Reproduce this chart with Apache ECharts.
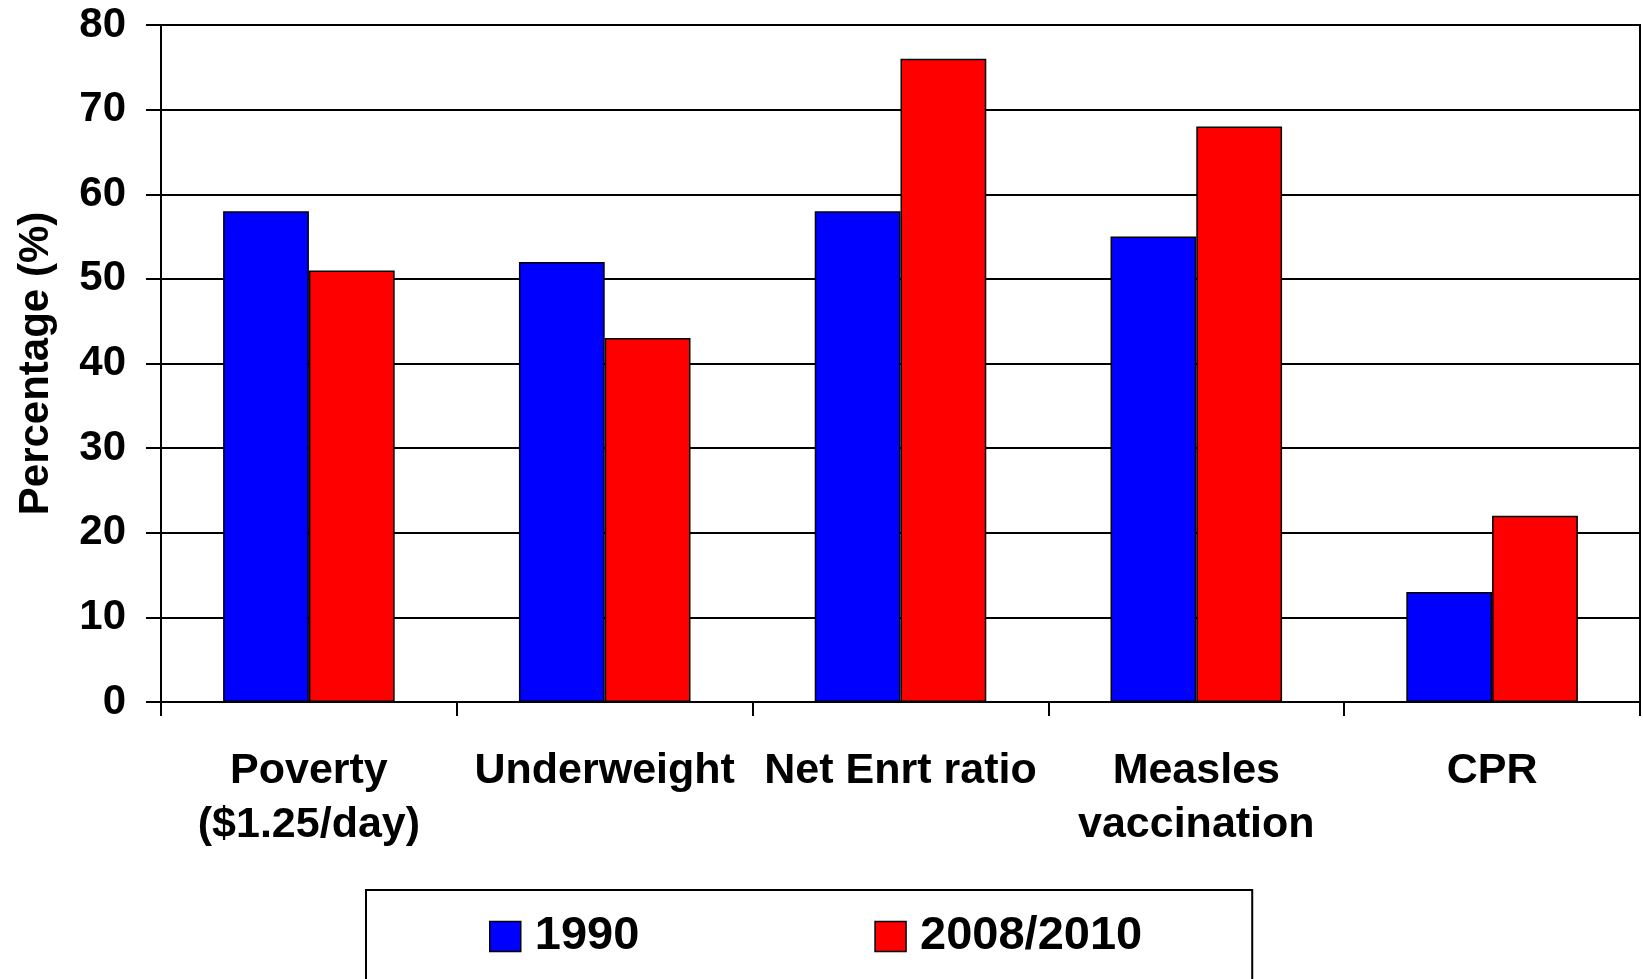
<!DOCTYPE html>
<html>
<head>
<meta charset="utf-8">
<script src="https://cdn.jsdelivr.net/npm/echarts@6/dist/echarts.min.js"></script>
<style>
html,body{margin:0;padding:0;background:#fff;}
#chart{width:1643px;height:979px;}
</style>
</head>
<body>
<div id="chart"></div>
<script>
const categories = ['Poverty\n($1.25/day)', 'Underweight', 'Net Enrt ratio', 'Measles\nvaccination', 'CPR'];
const values1990 = [58, 52, 58, 55, 13];
const values2010 = [51, 43, 76, 68, 22];
const seriesNames = ['1990', '2008/2010'];
const yTicks = {min: 0, max: 80, interval: 10};

const FONT = 'Liberation Sans, Arial, sans-serif';
const chart = echarts.init(document.getElementById('chart'), null, {renderer: 'canvas'});
chart.setOption({
  animation: false,
  backgroundColor: '#fff',
  textStyle: {fontFamily: FONT},
  grid: {left: 161, right: 3, top: 25, bottom: 277, show: true, borderColor: '#000', borderWidth: 2, backgroundColor: 'transparent'},
  legend: {
    left: 366, top: 890,
    padding: [23, 110, 80, 123],
    borderColor: '#000', borderWidth: 2,
    itemWidth: 31, itemHeight: 30, itemGap: 235,
    icon: 'rect',
    itemStyle: {borderColor: '#000', borderWidth: 1.5},
    textStyle: {fontFamily: FONT, fontWeight: 'bold', fontSize: 47, color: '#000', padding: [0, 0, 0, 9]},
    data: seriesNames
  },
  xAxis: {
    type: 'category',
    data: categories,
    axisLine: {lineStyle: {color: '#000', width: 2}},
    axisTick: {show: true, length: 14, lineStyle: {color: '#000', width: 2}},
    axisLabel: {color: '#000', fontFamily: FONT, fontWeight: 'bold', fontSize: 43, lineHeight: 54, margin: 42, interval: 0}
  },
  yAxis: {
    type: 'value',
    min: yTicks.min, max: yTicks.max, interval: yTicks.interval,
    name: 'Percentage (%)',
    nameLocation: 'middle',
    nameGap: 104,
    nameTextStyle: {color: '#000', fontFamily: FONT, fontWeight: 'bold', fontSize: 42},
    axisLine: {show: true, lineStyle: {color: '#000', width: 2}},
    axisTick: {show: true, length: 15, lineStyle: {color: '#000', width: 2}},
    axisLabel: {color: '#000', fontFamily: FONT, fontWeight: 'bold', fontSize: 42, margin: 35},
    splitLine: {show: true, lineStyle: {color: '#000', width: 2}}
  },
  series: [
    {name: seriesNames[0], type: 'bar', data: values1990, barGap: '0%', barCategoryGap: '42%',
     itemStyle: {color: '#0000FF', borderColor: '#000', borderWidth: 1.5}},
    {name: seriesNames[1], type: 'bar', data: values2010, barGap: '0%', barCategoryGap: '42%',
     itemStyle: {color: '#FF0000', borderColor: '#000', borderWidth: 1.5}}
  ]
});
</script>
</body>
</html>
